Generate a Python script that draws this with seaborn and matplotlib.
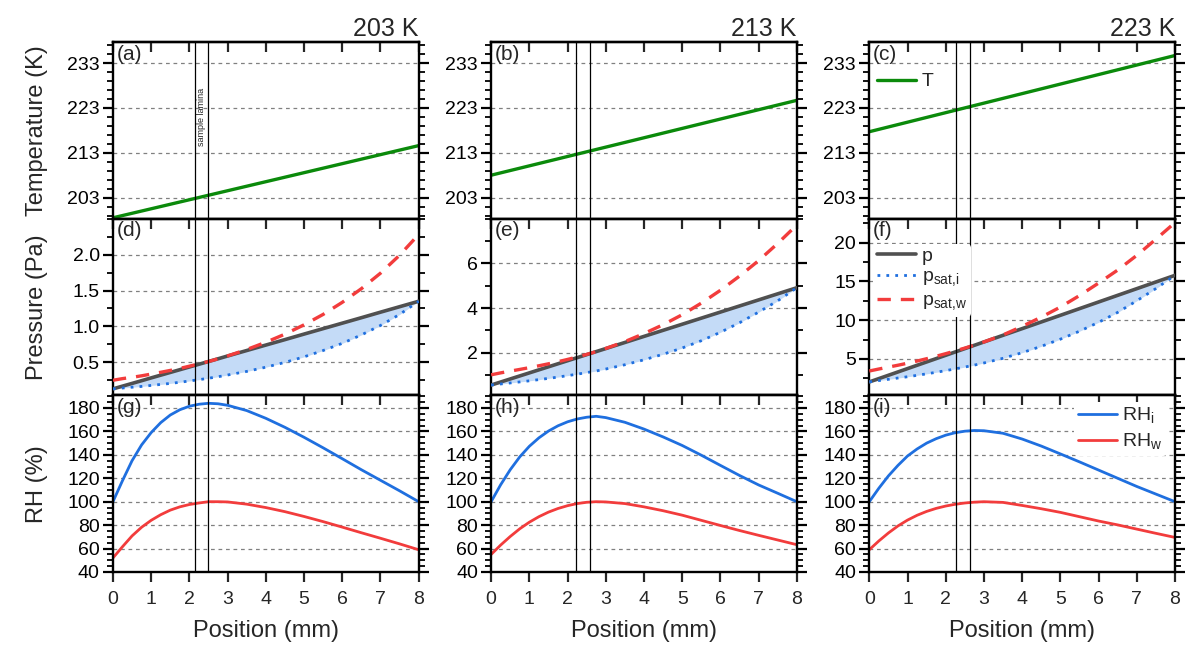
import numpy as np
import seaborn as sns
import matplotlib
matplotlib.use('Agg')
import matplotlib.pyplot as plt
from matplotlib.ticker import AutoMinorLocator

sns.set_style("ticks")
plt.rcParams['font.family'] = ['Liberation Sans', 'DejaVu Sans']
plt.rcParams['mathtext.fontset'] = 'custom'
plt.rcParams['mathtext.rm'] = 'Liberation Sans'

# === Data ===
temps = ['203 K', '213 K', '223 K']
pos = [0, 0.25, 0.5, 0.75, 1, 1.25, 1.5, 1.75, 2, 2.25, 2.5, 2.75, 3,
       3.5, 4, 4.5, 5, 5.5, 6, 6.5, 7, 7.5, 8]
pos_T = [0, 8]

T_203 = [198.5, 214.6]
T_213 = [208.0, 224.7]
T_223 = [217.7, 234.7]

# vapour pressure and saturation pressures (Pa)
p_203 = [0.13, 0.168, 0.206, 0.244, 0.283, 0.321, 0.359, 0.397, 0.435, 0.473, 0.511, 0.549,
         0.588, 0.664, 0.74, 0.816, 0.893, 0.969, 1.045, 1.121, 1.198, 1.274, 1.35]
psi_203 = [0.13, 0.142, 0.153, 0.164, 0.178, 0.192, 0.206, 0.222, 0.24, 0.258, 0.278, 0.299,
           0.323, 0.373, 0.432, 0.499, 0.576, 0.664, 0.764, 0.881, 1.013, 1.166, 1.35]
psw_203 = [0.25, 0.273, 0.291, 0.312, 0.336, 0.361, 0.387, 0.415, 0.446, 0.478, 0.511, 0.549,
           0.589, 0.678, 0.779, 0.892, 1.022, 1.167, 1.335, 1.525, 1.741, 1.991, 2.28]

p_213 = [0.56, 0.696, 0.832, 0.968, 1.104, 1.24, 1.376, 1.512, 1.648, 1.784, 1.92, 2.056,
         2.192, 2.464, 2.736, 3.008, 3.28, 3.552, 3.824, 4.096, 4.368, 4.64, 4.912]
psi_213 = [0.56, 0.608, 0.654, 0.7, 0.749, 0.803, 0.858, 0.917, 0.98, 1.046, 1.116, 1.189,
           1.276, 1.468, 1.689, 1.937, 2.216, 2.543, 2.919, 3.346, 3.822, 4.328, 4.912]
psw_213 = [1.018, 1.105, 1.183, 1.259, 1.338, 1.422, 1.51, 1.605, 1.706, 1.813, 1.93, 2.056,
           2.196, 2.504, 2.862, 3.259, 3.706, 4.224, 4.798, 5.432, 6.126, 6.895, 7.72]

p_223 = [2.03, 2.46, 2.89, 3.32, 3.75, 4.18, 4.61, 5.04, 5.47, 5.9, 6.33, 6.76,
         7.19, 8.05, 8.91, 9.77, 10.63, 11.49, 12.35, 13.21, 14.07, 14.93, 15.79]
psi_223 = [2.03, 2.206, 2.369, 2.534, 2.698, 2.883, 3.073, 3.277, 3.488, 3.713, 3.951, 4.204,
           4.477, 5.082, 5.805, 6.624, 7.55, 8.575, 9.724, 11.008, 12.507, 14.085, 15.79]
psw_223 = [3.441, 3.699, 3.943, 4.187, 4.448, 4.729, 5.027, 5.345, 5.68, 6.033, 6.4, 6.787,
           7.19, 8.099, 9.205, 10.394, 11.694, 13.177, 14.79, 16.471, 18.368, 20.452, 22.6]

# relative humidity (%)
RHi_203 = [100, 118, 135, 148.5, 159, 167.5, 174, 178.5, 181.5, 183.2, 184, 183.6,
           182.3, 177.8, 171.2, 163.5, 155, 146, 136.7, 127.3, 118.3, 109.3, 100]
RHw_203 = [52, 61.6, 70.8, 78.2, 84.1, 88.9, 92.8, 95.6, 97.6, 98.9, 100, 100,
           99.8, 97.9, 95.0, 91.5, 87.4, 83.0, 78.3, 73.5, 68.8, 64.0, 59.0]
RHi_213 = [100, 114.5, 127.3, 138.3, 147.3, 154.5, 160.3, 164.8, 168.2, 170.6, 172.1, 172.9,
           171.8, 167.8, 162, 155.3, 148, 139.7, 131, 122.4, 114.3, 107.2, 100]
RHw_213 = [55, 63, 70.3, 76.9, 82.5, 87.2, 91.1, 94.2, 96.6, 98.4, 99.5, 100,
           99.8, 98.4, 95.6, 92.3, 88.5, 84.1, 79.7, 75.4, 71.3, 67.3, 63.3]
RHi_223 = [100, 111.5, 122, 131, 139, 145, 150, 153.8, 156.8, 158.9, 160.2, 160.8,
           160.6, 158.4, 153.5, 147.5, 140.8, 134, 127, 120, 113, 106.5, 100]
RHw_223 = [59, 66.5, 73.3, 79.3, 84.3, 88.4, 91.7, 94.3, 96.3, 97.8, 98.9, 99.6,
           100, 99.4, 96.8, 94, 90.9, 87.2, 83.5, 80.2, 76.6, 73, 69.5]

lamina = [(2.15, 2.5), (2.22, 2.58), (2.27, 2.63)]

T_all = [T_203, T_213, T_223]
p_all = [p_203, p_213, p_223]
psi_all = [psi_203, psi_213, psi_223]
psw_all = [psw_203, psw_213, psw_223]
RHi_all = [RHi_203, RHi_213, RHi_223]
RHw_all = [RHw_203, RHw_213, RHw_223]

p_ylims = [(0.04, 2.5), (0.1, 8.0), (0.3, 23.1)]
p_ticks = [[0.5, 1.0, 1.5, 2.0], [2, 4, 6], [5, 10, 15, 20]]
letters = ['adg', 'beh', 'cfi']

c_green = '#0b8a0b'
c_gray = '#505050'
c_blue = '#1f6fdf'
c_red = '#f23c3c'
c_fill = '#c4dbf7'

fig, axes = plt.subplots(3, 3, figsize=(11.94, 6.57), dpi=100, sharex=True)
fig.subplots_adjust(left=0.0946, right=0.9841, top=0.936, bottom=0.1294,
                    hspace=0, wspace=0.237)

for j in range(3):
    axT, axP, axR = axes[0, j], axes[1, j], axes[2, j]

    sns.lineplot(x=pos_T, y=T_all[j], ax=axT, color=c_green, lw=2.4, label='T', legend=False)
    axT.set_ylim(198.3, 237.7)
    axT.set_yticks([203, 213, 223, 233])
    axT.yaxis.set_minor_locator(AutoMinorLocator(5))

    axP.fill_between(pos, psi_all[j], p_all[j], color=c_fill, lw=0, zorder=1)
    sns.lineplot(x=pos, y=p_all[j], ax=axP, color=c_gray, lw=2.6, label='p', legend=False, zorder=3)
    sns.lineplot(x=pos, y=psi_all[j], ax=axP, color=c_blue, lw=2.0, linestyle=(0, (1, 2.2)),
                 label=r'p$_{\mathrm{sat,\!i}}$', legend=False, zorder=3)
    sns.lineplot(x=pos, y=psw_all[j], ax=axP, color=c_red, lw=2.4, linestyle=(0, (4, 3)),
                 label=r'p$_{\mathrm{sat,\!w}}$', legend=False, zorder=4)
    axP.set_ylim(*p_ylims[j])
    axP.set_yticks(p_ticks[j])
    axP.yaxis.set_minor_locator(AutoMinorLocator(2))

    sns.lineplot(x=pos, y=RHi_all[j], ax=axR, color=c_blue, lw=2.0, label=r'RH$_{\mathrm{i}}$', legend=False)
    sns.lineplot(x=pos, y=RHw_all[j], ax=axR, color=c_red, lw=2.0, label=r'RH$_{\mathrm{w}}$', legend=False)
    axR.set_ylim(40, 190.8)
    axR.set_yticks(np.arange(40, 181, 20))
    axR.yaxis.set_minor_locator(AutoMinorLocator(4))

    for k, ax in enumerate([axT, axP, axR]):
        ax.set_xlim(0, 8)
        ax.set_xticks(range(0, 9))
        ax.grid(axis='y', which='major', linestyle=(0, (3, 3)), color='#808080', lw=0.9)
        ax.set_axisbelow(True)
        for lo_hi in lamina[j]:
            ax.axvline(lo_hi, color='black', lw=0.9, zorder=5)
        for s in ax.spines.values():
            s.set_linewidth(1.7)
            s.set_color('black')
        ax.tick_params(axis='y', which='both', left=True, right=True, direction='out',
                       labelsize=14, colors='black', width=1.6, pad=2)
        ax.tick_params(axis='y', which='major', length=7.5)
        ax.tick_params(axis='y', which='minor', length=4, width=1.3)
        ax.tick_params(axis='x', which='major', bottom=True, top=False, direction='out',
                       length=7, width=1.6, labelsize=14, labelbottom=(k == 2), pad=7)
        top = ax.secondary_xaxis('top')
        top.set_xticks(range(0, 9))
        top.tick_params(axis='x', direction='in', length=7, width=1.6, labeltop=False)
        top.spines['top'].set_linewidth(1.7)
        ax.text(0.012, 0.985, '(' + letters[j][k] + ')', transform=ax.transAxes,
                ha='left', va='top', fontsize=15, zorder=6)
        ax.set_xlabel('')
        ax.set_ylabel('')

    axR.set_xlabel('Position (mm)', fontsize=17, labelpad=8)
    axT.set_title(temps[j], loc='right', fontsize=18, pad=4)

axes[0, 0].text(2.33, 221, 'sample lamina', rotation=90, fontsize=6.5, ha='center', va='center')

axes[0, 0].set_ylabel('Temperature (K)', fontsize=17, labelpad=14)
axes[1, 0].set_ylabel('Pressure (Pa)', fontsize=17, labelpad=14)
axes[2, 0].set_ylabel('RH (%)', fontsize=17, labelpad=14)
fig.align_ylabels(axes[:, 0])

leg_kw = dict(frameon=True, facecolor='white', edgecolor='none', framealpha=1,
              fontsize=14, handlelength=2.0, borderaxespad=0.2, handletextpad=0.3,
              borderpad=0.2)
axes[0, 2].legend(loc='upper left', bbox_to_anchor=(0.0, 0.87), **leg_kw)
axes[1, 2].legend(loc='upper left', bbox_to_anchor=(0.0, 0.88), labelspacing=0.15, **leg_kw)
axes[2, 2].legend(loc='upper right', bbox_to_anchor=(0.985, 0.985), labelspacing=0.3, **leg_kw)

fig.savefig('out.png', dpi=100)
